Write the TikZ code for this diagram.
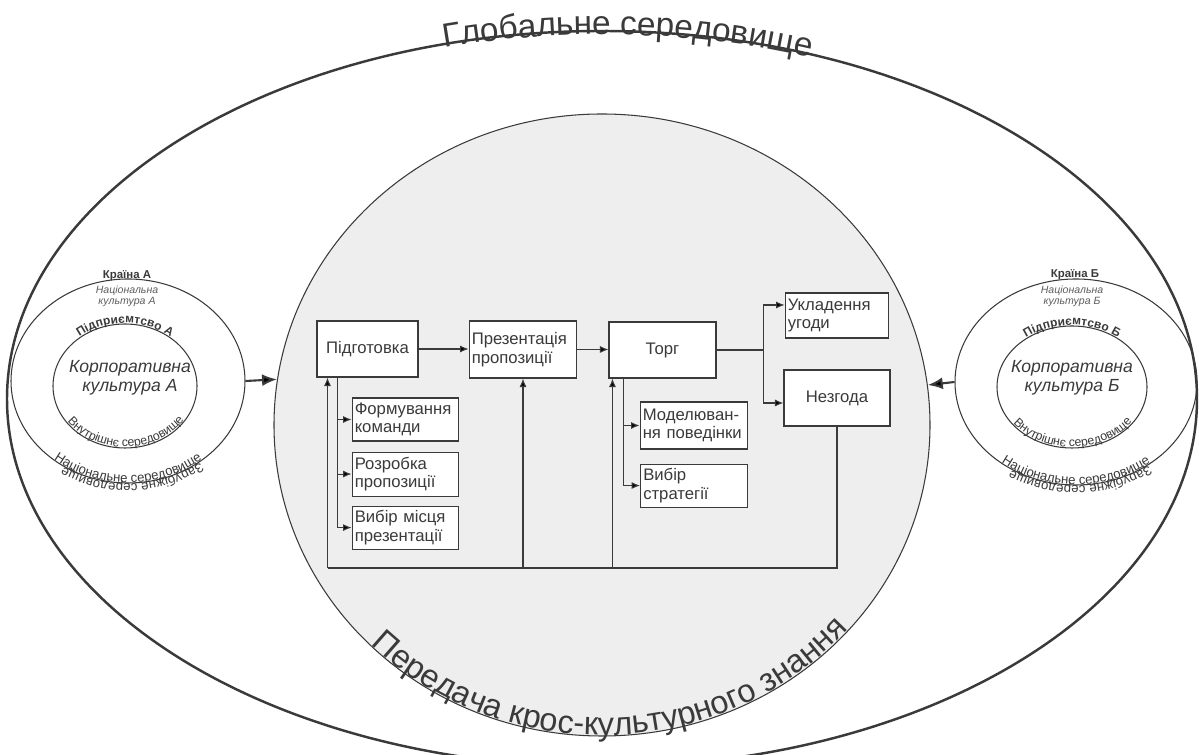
\documentclass[tikz,border=0pt]{standalone}
\usepackage{fontspec}
\setmainfont{Liberation Sans}
\usepackage{tikz}
\usetikzlibrary{arrows.meta,shapes.geometric,decorations.text,positioning}
\definecolor{ink}{HTML}{3A3A3A}
\definecolor{sirij}{HTML}{EEEEEE}
\definecolor{blidyj}{HTML}{5E5E5E}

\begin{document}
\begin{tikzpicture}[
  blok/.style={draw=ink, fill=white, line width=0.6pt, text=ink, font=\fontsize{9.5}{10.5}\selectfont, inner xsep=1.5pt, inner ysep=1pt},
  pole/.style={blok, align=left},
  kolo/.style={ellipse, draw=ink, inner sep=0pt},
  lin/.style={draw=ink, line width=0.6pt},
  strilka/.style={lin, -{Latex[length=1.7mm,width=1.4mm]}},
  velyka/.style={draw=ink, line width=1.2pt, -{Latex[length=3mm,width=2.4mm]}},
  napys/.style={decorate, decoration={text along path, text align=center, text color=ink, #1}}
]
\useasboundingbox (0,0) rectangle (23.98,15.1);
\clip (0,0) rectangle (23.98,15.1);

% environment ellipses
\node (glob) [kolo, line width=1.4pt, minimum width=23.8cm, minimum height=14.72cm] at (12.04,7.12) {};
\node (centre) [kolo, fill=sirij, line width=0.6pt, minimum width=13.12cm, minimum height=12.44cm] at (12.04,6.6) {};
\node (kA) [kolo, line width=0.6pt, minimum width=4.68cm, minimum height=4.08cm] at (2.56,7.48) {};
\node (vA) [kolo, line width=0.6pt, minimum width=2.88cm, minimum height=2.48cm] at (2.5,7.38) {};
\node (kB) [kolo, line width=0.6pt, minimum width=4.84cm, minimum height=4.12cm] at (21.52,7.46) {};
\node (vB) [kolo, line width=0.6pt, minimum width=3.0cm, minimum height=2.44cm] at (21.44,7.36) {};

\path[napys={raise=-2pt, text={|\fontsize{19}{19}\selectfont|Глобальне середовище}}]
  (12.04,7.12) ++(146.6:11.9 and 7.36) arc[start angle=146.6, end angle=26.6, x radius=11.9, y radius=7.36];
\path[napys={raise=0.5pt, text={|\fontsize{18.5}{18.5}\selectfont|Передача крос-культурного знання}}]
  (12.04,6.6) ++(207:6.56 and 6.22) arc[start angle=207, end angle=337, x radius=6.56, y radius=6.22];

% country A
\node (krA) [anchor=base, text=ink, font=\bfseries\fontsize{6.5}{7}\selectfont] at (2.54,9.53) {Країна А};
\node (ncA) [align=center, text=blidyj, font=\itshape\fontsize{6}{6.3}\selectfont] at (2.54,9.17) {Національна\\культура А};
\node (kkA) [align=center, text=ink, font=\itshape\fontsize{10}{10.8}\selectfont] at (2.6,7.55) {Корпоративна\\культура А};
\path[napys={raise=0.5pt, text={|\bfseries\fontsize{6.8}{7}\selectfont|Підприємтсво А}}]
  (2.5,7.38) ++(150:1.44 and 1.24) arc[start angle=150, end angle=30, x radius=1.44, y radius=1.24];
\path[napys={raise=0.6pt, text={|\fontsize{7}{7}\selectfont|Внутрішнє середовище}}]
  (2.5,7.38) ++(195:1.44 and 1.24) arc[start angle=195, end angle=347, x radius=1.44, y radius=1.24];
\path[napys={raise=0.2pt, text={|\fontsize{7.5}{7.5}\selectfont|Національне середовище}}]
  (2.56,7.48) ++(205:2.34 and 2.04) arc[start angle=205, end angle=335, x radius=2.34, y radius=2.04];
\path[napys={raise=0.4pt, text={|\fontsize{7.5}{7.5}\selectfont|Зарубіжне середовище}}]
  (2.56,7.48) ++(338:2.34 and 2.04) arc[start angle=338, end angle=207, x radius=2.34, y radius=2.04];

% country B
\node (krB) [anchor=base, text=ink, font=\bfseries\fontsize{6.5}{7}\selectfont] at (21.5,9.54) {Країна Б};
\node (ncB) [align=center, text=blidyj, font=\itshape\fontsize{6}{6.3}\selectfont] at (21.44,9.17) {Національна\\культура Б};
\node (kkB) [align=center, text=ink, font=\itshape\fontsize{10}{10.8}\selectfont] at (21.44,7.55) {Корпоративна\\культура Б};
\path[napys={raise=0.5pt, text={|\bfseries\fontsize{6.8}{7}\selectfont|Підприємтсво Б}}]
  (21.44,7.36) ++(150:1.5 and 1.22) arc[start angle=150, end angle=30, x radius=1.5, y radius=1.22];
\path[napys={raise=0.6pt, text={|\fontsize{7}{7}\selectfont|Внутрішнє середовище}}]
  (21.44,7.36) ++(195:1.5 and 1.22) arc[start angle=195, end angle=347, x radius=1.5, y radius=1.22];
\path[napys={raise=0.2pt, text={|\fontsize{7.5}{7.5}\selectfont|Національне середовище}}]
  (21.52,7.46) ++(205:2.42 and 2.06) arc[start angle=205, end angle=335, x radius=2.42, y radius=2.06];
\path[napys={raise=0.4pt, text={|\fontsize{7.5}{7.5}\selectfont|Зарубіжне середовище}}]
  (21.52,7.46) ++(338:2.42 and 2.06) arc[start angle=338, end angle=207, x radius=2.42, y radius=2.06];

\draw[velyka] (kA.east) -- (centre.172.3);
\draw[velyka] (kB.west) -- (centre.7.5);

% negotiation stages
\node (pidg) [blok, minimum width=2.02cm, minimum height=1.12cm] at (7.35,8.12) {Підготовка};
\node (prez) [pole, text width=2.05cm, minimum height=1.14cm] at (10.46,8.11) {Презентація\\пропозиції};
\node (torg) [blok, minimum width=2.14cm, minimum height=1.12cm] at (13.25,8.1) {Торг};
\node (ukl) [pole, text width=1.97cm, minimum height=0.9cm] at (16.74,8.79) {Укладення\\угоди};
\node (nezg) [blok, minimum width=2.12cm, minimum height=1.12cm] at (16.74,7.14) {Незгода};
\node (form) [pole, text width=2.03cm, minimum height=0.86cm] at (8.11,6.71) {Формування\\команди};
\node (rozr) [pole, text width=2.03cm, minimum height=0.88cm, below=0.2cm of form] {Розробка\\пропозиції};
\node (misce) [pole, text width=2.03cm, minimum height=0.86cm, below=0.18cm of rozr] {Вибір місця\\презентації};
\node (model) [pole, text width=2.05cm, minimum height=0.94cm] at (13.88,6.59) {Моделюван-\\ня поведінки};
\node (strat) [pole, text width=2.03cm, minimum height=0.86cm, below=0.28cm of model] {Вибір\\стратегії};

\draw[strilka] (pidg.east) -- (pidg.east -| prez.west);
\draw[strilka] (prez.east) -- (prez.east -| torg.west);
\coordinate (rozv) at ([xshift=0.94cm]torg.east);
\draw[lin] (torg.east) -- (rozv);
\draw[strilka] (rozv) |- ([yshift=0.21cm]ukl.west);
\draw[strilka] (rozv) |- ([yshift=-0.1cm]nezg.west);

\coordinate (pA) at ([xshift=0.42cm]pidg.south west);
\draw[strilka] (pA) |- (form.west);
\draw[strilka] (pA) |- (rozr.west);
\draw[strilka] (pA) |- (misce.west);
\coordinate (pB) at ([xshift=0.3cm]torg.south west);
\draw[strilka] (pB) |- (model.west);
\draw[strilka] (pB) |- (strat.west);

% feedback loop
\coordinate (zv) at (nezg.south |- 0,3.74);
\coordinate (zvL) at (6.55,3.74);
\coordinate (tB) at ([xshift=0.08cm]torg.south west);
\draw[lin] (nezg.south) -- (zv) -- (zvL);
\draw[strilka] (zvL) -- (zvL |- pidg.south);
\draw[strilka] (prez.south |- zv) -- (prez.south);
\draw[strilka] (tB |- zv) -- (tB);
\end{tikzpicture}
\end{document}
